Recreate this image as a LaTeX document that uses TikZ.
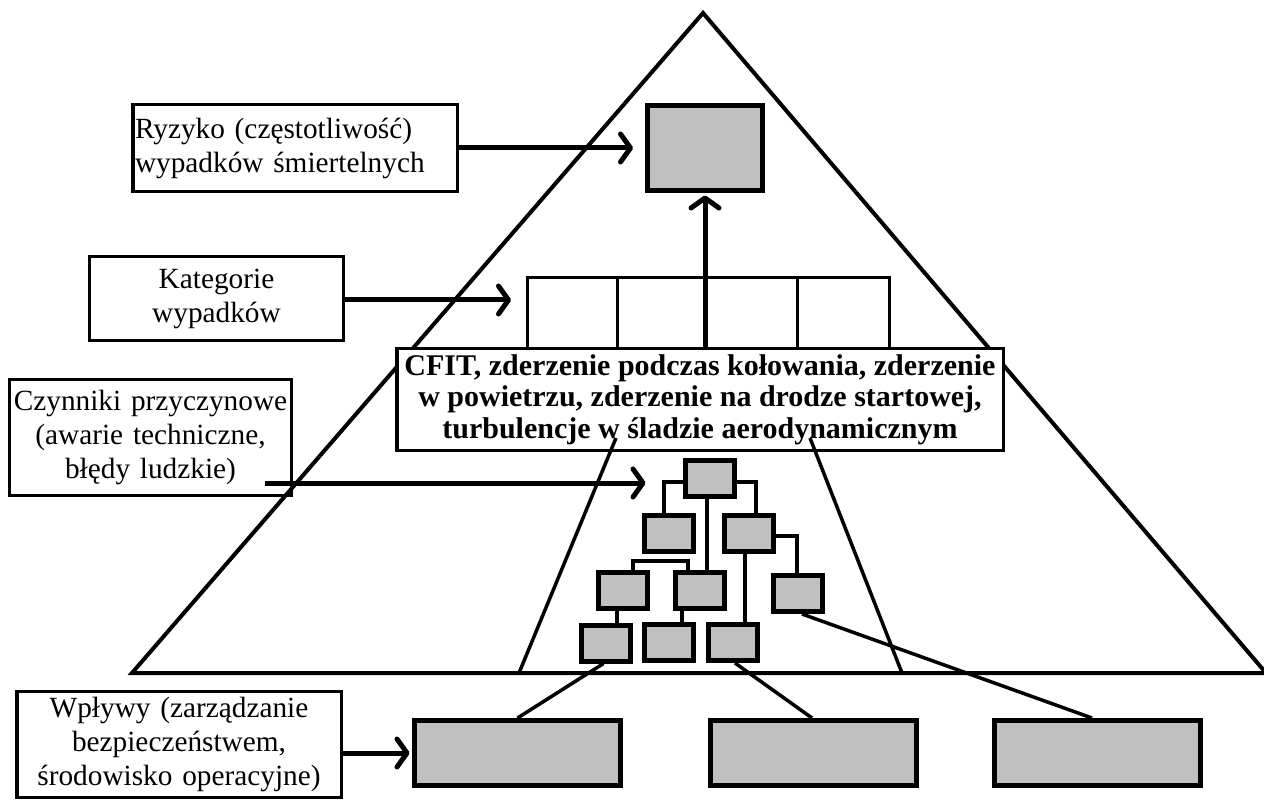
\documentclass[tikz,border=0pt]{standalone}
\usepackage{fontspec}
\setmainfont{Liberation Serif}
\usetikzlibrary{arrows.meta}
\definecolor{boxgray}{HTML}{C0C0C0}

\begin{document}
\begin{tikzpicture}[x=1pt,y=-1pt,
  lbl/.style={draw=black,line width=3.5pt,inner sep=0pt,align=center,
              font=\fontsize{29.3}{34}\selectfont},
  gbox/.style={draw=black,fill=boxgray,line width=5pt,inner sep=0pt},
  tbox/.style={gbox,minimum width=49pt,minimum height=36pt},
  bbox/.style={gbox,minimum width=206pt,minimum height=65pt},
  frame/.style={line width=4pt,line join=miter},
  tline/.style={line width=3.5pt},
  catline/.style={line width=3pt},
  arr/.style={line width=5pt,-{Straight Barb[length=10pt,width=28pt,round]}},
]
\useasboundingbox (0,0) rectangle (1264,802);

% the pyramid
\coordinate (apex) at (703,13);
\coordinate (bl) at (132,673);
\coordinate (br) at (1266,673);
\draw[frame] (apex) -- (bl) -- (br) -- cycle;

% level labels on the left
\node[lbl,minimum width=324.5pt,minimum height=87pt,text width=320pt,align=left]
  (ryz) at (295,148) {Ryzyko (częstotliwość)\\wypadków śmiertelnych};
\node[lbl,minimum width=254pt,minimum height=84pt,text width=250pt]
  (kat) at (216.5,298.5) {Kategorie\\wypadków};
\node[lbl,minimum width=282pt,minimum height=116pt,text width=280pt]
  (czy) at (150.5,437.5) {Czynniki przyczynowe\\(awarie techniczne,\\błędy ludzkie)};
\node[lbl,anchor=north,minimum width=324.5pt,minimum height=106pt,text width=320pt]
  (wpl) at (179,689.75) {Wpływy (zarządzanie\\bezpieczeństwem,\\środowisko operacyjne)};

% top of the pyramid
\node[gbox,minimum width=115pt,minimum height=85pt] (top) at (705,148) {};

% accident categories
\node[draw=black,line width=3.5pt,inner sep=0pt,align=center,fill=white,
      font=\bfseries\fontsize{30}{31.5}\selectfont,
      minimum width=606.5pt,minimum height=101.5pt]
  (cfit) at (700,399.5)
  {CFIT, zderzenie podczas kołowania, zderzenie\\
   w powietrzu, zderzenie na drodze startowej,\\
   turbulencje w śladzie aerodynamicznym};

\coordinate (c0) at (527,347);
\coordinate (c1) at (617,347);
\coordinate (c3) at (797,347);
\coordinate (c4) at (889,347);
\draw[catline] (c0) -- (c0 |- 0,278) -- (c4 |- 0,278) -- (c4);
\draw[catline] (c1) -- (c1 |- 0,278);
\draw[catline] (c3) -- (c3 |- 0,278);

% causal factor tree
\node[tbox] (t0)  at (709.5,478) {};
\node[tbox] (l2a) at (669,533) {};
\node[tbox] (l2b) at (748.5,533) {};
\node[tbox] (l3a) at (622.5,590.5) {};
\node[tbox] (l3b) at (699.5,590.5) {};
\node[tbox] (l3c) at (798,593.5) {};
\node[tbox] (l4a) at (605.5,643) {};
\node[tbox] (l4b) at (668.5,642.5) {};
\node[tbox] (l4c) at (733,642.5) {};

\draw[tline] ([yshift=-4pt]t0.west) -| ([xshift=-5pt]l2a.north);
\draw[tline] ([yshift=-4pt]t0.east) -| ([xshift=7.5pt]l2b.north);
\draw[tline] ([xshift=-2.5pt]t0.south) -- ([xshift=-2.5pt]t0.south |- l3b.north);
\draw[tline] ([xshift=10.5pt]l3a.north) -- ++(0,-9) -| ([xshift=-11.5pt]l3b.north);
\draw[tline] ([xshift=-3.5pt]l2b.south) -- ([xshift=-3.5pt]l2b.south |- l4c.north);
\draw[tline] ([yshift=-3pt]l2b.east) -| ([xshift=-1pt]l3c.north);
\draw[tline] ([xshift=-5.5pt]l3a.south) -- ([xshift=-5.5pt]l3a.south |- l4a.north);
\draw[tline] ([xshift=-17.5pt]l3b.south) -- ([xshift=-17.5pt]l3b.south |- l4b.north);

% influences
\node[bbox] (b1) at (517.5,753) {};
\node[bbox] (b2) at (813,753) {};
\node[bbox] (b3) at (1097,753) {};

\draw[tline] ([xshift=-2pt]l4a.south) -- (b1.north);
\draw[tline] ([xshift=2pt]l4c.south) -- ([xshift=-1pt]b2.north);
\draw[tline] ([xshift=4pt]l3c.south) -- ([xshift=-5pt]b3.north);

% sides of the causal-factor layer
\coordinate (tl) at (616,438);
\coordinate (tlb) at (519,673);
\coordinate (tr) at (810,438);
\coordinate (trb) at (902,673);
\draw[tline] (tl) -- (tlb);
\draw[tline] (tr) -- (trb);

% arrows
\coordinate (katin) at (511,300);
\coordinate (czyout) at (265,483);
\draw[arr,shorten >=12pt] (ryz.east) -- (top.west);
\draw[arr] (kat.east |- katin) -- (katin);
\draw[arr,shorten >=2.5pt] (top.south |- cfit.north) -- (top.south);
\draw[arr,shorten >=37pt] (czyout) -- (czyout -| t0.west);
\draw[arr,shorten >=2.5pt] (wpl.east |- b1.west) -- (b1.west);
\end{tikzpicture}
\end{document}
